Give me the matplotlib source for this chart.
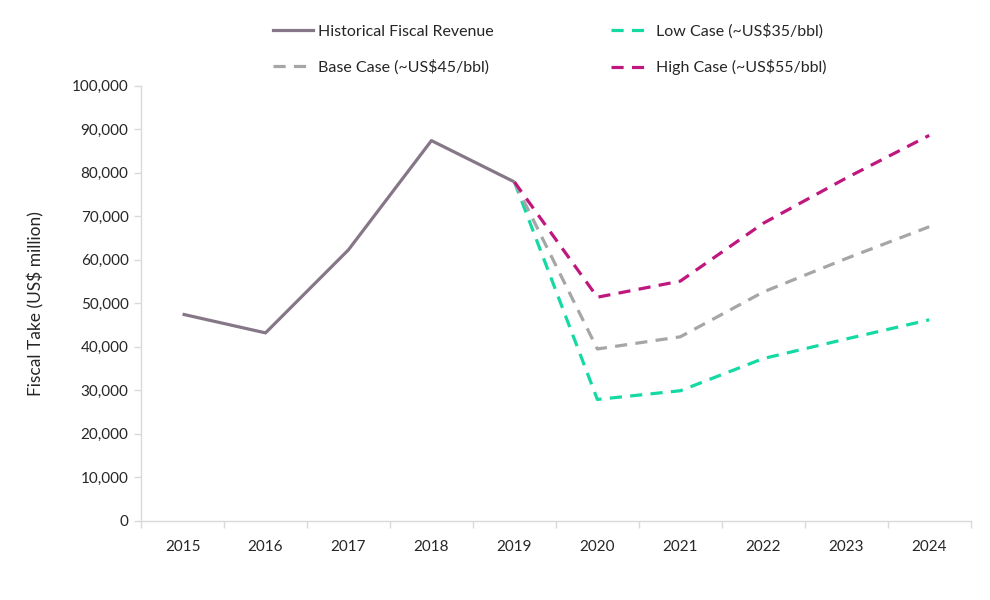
import matplotlib
matplotlib.use("Agg")
import matplotlib.pyplot as plt
from matplotlib.ticker import FuncFormatter, FixedLocator
from matplotlib.lines import Line2D

years = ["2015", "2016", "2017", "2018", "2019", "2020", "2021", "2022", "2023", "2024"]
historical = [47500, 43200, 62300, 87400, 77900]
low_case = [77900, 27900, 29900, 37300, 41800, 46200]
base_case = [77900, 39500, 42300, 52600, 60300, 67600]
high_case = [77900, 51400, 55100, 68400, 78800, 88600]

plt.rcParams['font.family'] = ['Lato', 'DejaVu Sans']

c_hist = '#857787'
c_low = '#14D9A3'
c_base = '#A6A6A6'
c_high = '#C0177E'
spine_c = '#D9D9D9'
txt_c = '#262626'

fig = plt.figure(figsize=(9.9, 6.0), dpi=100)
ax = fig.add_axes([0.1425, 0.132, 0.838, 0.725])

x = list(range(len(years)))
lw = 2.3
dash = (3.8, 2.6)
ax.plot(x[:5], historical, color=c_hist, lw=lw, solid_capstyle='butt', zorder=3)
ax.plot(x[4:], low_case, color=c_low, lw=lw, dashes=dash, dash_capstyle='butt', zorder=2)
ax.plot(x[4:], base_case, color=c_base, lw=lw, dashes=dash, dash_capstyle='butt', zorder=2)
ax.plot(x[4:], high_case, color=c_high, lw=lw, dashes=dash, dash_capstyle='butt', zorder=2)

ax.set_xlim(-0.5, len(years) - 0.5)
ax.set_ylim(0, 100000)
ax.set_xticks(x)
ax.set_xticklabels(years)
ax.xaxis.set_minor_locator(FixedLocator([i - 0.5 for i in range(len(years) + 1)]))
ax.tick_params(axis='x', which='major', length=0, pad=14, labelsize=11, colors=txt_c)
ax.tick_params(axis='x', which='minor', length=5, color=spine_c, width=1)
ax.set_yticks(range(0, 100001, 10000))
ax.yaxis.set_major_formatter(FuncFormatter(lambda v, p: f"{int(v):,}"))
ax.tick_params(axis='y', length=5, color=spine_c, width=1, labelsize=11, labelcolor=txt_c, pad=4)

for s in ['top', 'right']:
    ax.spines[s].set_visible(False)
for s in ['left', 'bottom']:
    ax.spines[s].set_color(spine_c)
    ax.spines[s].set_linewidth(1)

ax.set_ylabel("Fiscal Take (US$ million)", fontsize=12.5, color=txt_c, labelpad=20)

handles = [
    Line2D([], [], color=c_hist, lw=lw),
    Line2D([], [], color=c_base, lw=lw, dashes=dash),
    Line2D([], [], color=c_low, lw=lw, dashes=dash),
    Line2D([], [], color=c_high, lw=lw, dashes=dash),
]
labels = ["Historical Fiscal Revenue", "Base Case (~US$45/bbl)",
          "Low Case (~US$35/bbl)", "High Case (~US$55/bbl)"]
leg = fig.legend(handles, labels, ncol=2, loc='upper left', bbox_to_anchor=(0.261, 0.985),
                 frameon=False, fontsize=11.5, handlelength=2.55, handletextpad=0.3,
                 columnspacing=7.3, labelspacing=1.3, labelcolor=txt_c)

fig.savefig("out.png", dpi=100, facecolor='white')
